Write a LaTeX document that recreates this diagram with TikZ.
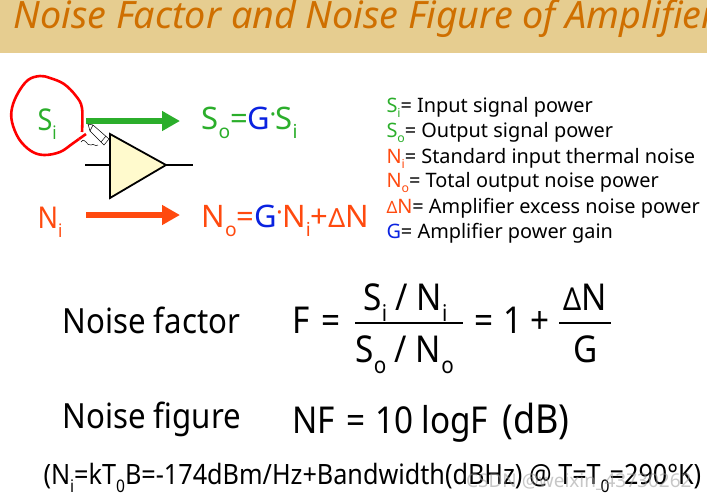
\documentclass[tikz,border=0pt]{standalone}
\usepackage{fontspec}
\setmainfont{Noto Sans}
\newfontfamily\narrowfont[FakeStretch=0.9]{Noto Sans}
\usetikzlibrary{arrows.meta}
\definecolor{bandcol}{HTML}{E6CD90}
\definecolor{titlecol}{HTML}{CF6F00}
\definecolor{sigcol}{HTML}{2BAE2B}
\definecolor{noisecol}{HTML}{FF4A0F}
\definecolor{gaincol}{HTML}{0A22E0}
\definecolor{ampcol}{HTML}{FFFACD}
\newcommand{\low}[1]{\raisebox{-0.3em}{\scalebox{0.62}{#1}}}
\newcommand{\sig}[1]{{\color{sigcol}#1}}
\newcommand{\noi}[1]{{\color{noisecol}#1}}
\newcommand{\gai}[1]{{\color{gaincol}#1}}
\newcommand{\tdot}{\raisebox{0.32em}{\scalebox{0.45}{\textbullet}}}
\newcommand{\tdelta}{\scalebox{0.85}{Δ}}
\tikzset{
    big/.style={font=\fontsize{30}{30}\selectfont\narrowfont, inner sep=0pt, anchor=base west},
    wide/.style={font=\fontsize{31}{31}\selectfont, inner sep=0pt, anchor=base west},
    mid/.style={font=\fontsize{34.7}{34.7}\selectfont\narrowfont, inner sep=0pt, anchor=base west},
    maths/.style={font=\fontsize{37}{37}\selectfont\narrowfont, inner sep=0pt, anchor=base west},
    legend/.style={font=\fontsize{19.9}{19.9}\selectfont, inner sep=0pt, anchor=base west},
    fatarrow/.style={line width=6.5pt, -{Triangle[length=18pt,width=19pt]}}
}
\begin{document}
\begin{tikzpicture}[x=1pt, y=-1pt, line width=1pt]
    \useasboundingbox (0,0) rectangle (707,499);
    \clip (0,0) rectangle (707,499);

    % title
    \fill[bandcol] (0,0) rectangle (707,53);
    \node[anchor=west, inner sep=0pt, text=titlecol, font=\fontsize{37.7}{37.7}\selectfont\itshape] (title) at (13,19) {Noise Factor and Noise Figure of Amplifier};

    % signal and noise
    \node[big, text=sigcol] (si) at (37,130) {S\low{i}};
    \node[big, text=noisecol] (ni) at (37,228) {N\low{i}};
    \node[wide] (so) at (201,129) {\sig{S\low{o}=}\gai{\bfseries G}\sig{\tdot S\low{i}}};
    \node[wide] (no) at (201,227) {\noi{N\low{o}=}\gai{\bfseries G}\noi{\tdot N\low{i}+\tdelta N}};
    \coordinate (sigstart) at (86,121);
    \coordinate (sigend) at (180,121);
    \coordinate (noistart) at (86,215);
    \coordinate (noiend) at (180,215);
    \draw[fatarrow, sigcol] (sigstart) -- (sigend);
    \draw[fatarrow, noisecol] (noistart) -- (noiend);

    % amplifier
    \coordinate (ampin) at (110,165);
    \coordinate (ampout) at (166,165);
    \coordinate (infree) at (85,165);
    \coordinate (outfree) at (193,165);
    \draw[line width=1.5pt] (infree) -- (ampin);
    \draw[line width=1.5pt] (ampout) -- (outfree);
    \draw[line width=1.8pt, fill=ampcol] (110,134) -- (ampout) -- (110,198) -- cycle;

    % red circle
    \draw[red, line width=2.6pt, line join=round] plot[smooth, tension=0.6] coordinates {(82,132) (82,108) (76,96) (64,84) (50,78) (40,76) (28,80) (18,93) (12,108) (12,122) (19,139) (31,151) (44,155) (60,152) (72,144) (79,139)};
    \draw[red, line width=2.6pt] (79,139) -- (86,134);

    % pencil
    \draw[line width=0.5pt, fill=white] (88,124) -- (93,125) -- (109,139) -- (104,145) -- (90,131) -- cycle;
    \draw[line width=0.5pt] (93,125) -- (90,131);
    \draw[line width=0.5pt] (106,136) -- (101,142);
    \draw[line width=0.5pt] (81,142) .. controls (85,136) and (87,147) .. (91,145) .. controls (94,143) and (95,147) .. (98,145);

    % legend
    \node[legend] (l1) at (386,112) {\sig{S\low{i}}= Input signal power};
    \node[legend] (l2) at (386,137) {\sig{S\low{o}}= Output signal power};
    \node[legend] (l3) at (386,163) {\noi{N\low{i}}= Standard input thermal noise};
    \node[legend] (l4) at (386,187) {\noi{N\low{o}}= Total output noise power};
    \node[legend] (l5) at (386,213) {\noi{\tdelta N}= Amplifier excess noise power};
    \node[legend] (l6) at (386,238) {\gai{G}= Amplifier power gain};

    % noise factor
    \node[mid] (nfactor) at (62,333) {Noise factor};
    \node[maths] (fsym) at (292,333) {F};
    \node[maths] (eqa) at (321,333) {=};
    \node[maths] (fracup) at (363,310) {S\low{i} / N\low{i}};
    \node[maths] (fracdown) at (355,362) {S\low{o} / N\low{o}};
    \draw[line width=1.5pt] (355,323) -- (463,323);
    \node[maths] (eqb) at (474,333) {=};
    \node[maths] (one) at (503,333) {1};
    \node[maths] (plus) at (530,333) {+};
    \node[maths] (dn) at (563,310) {\tdelta N};
    \node[maths] (gain) at (573,362) {G};
    \draw[line width=1.5pt] (559,323) -- (611,323);

    % noise figure
    \node[mid] (nfigure) at (62,428) {Noise figure};
    \node[maths] (nf) at (292,433) {NF};
    \node[maths] (eqc) at (346,433) {=};
    \node[maths] (ten) at (375,433) {10};
    \node[maths] (logf) at (421,433) {log};
    \node[maths] (ff) at (470,433) {F};
    \node[maths, font=\fontsize{40}{40}\selectfont\narrowfont] (db) at (502,433) {(dB)};

    % bottom
    \node[anchor=base west, inner sep=0pt, font=\fontsize{28}{28}\selectfont\narrowfont] (note) at (43,484) {(N\low{i}=kT\low{0}B=-174dBm/Hz+Bandwidth(dBHz) @ T=T\low{0}=290\textdegree K)};
    \node[anchor=base east, inner sep=0pt, text=black!40, opacity=0.55, font=\fontsize{19}{19}\selectfont] (mark) at (692,487) {CSDN @weixin\_43730262};
\end{tikzpicture}
\end{document}
